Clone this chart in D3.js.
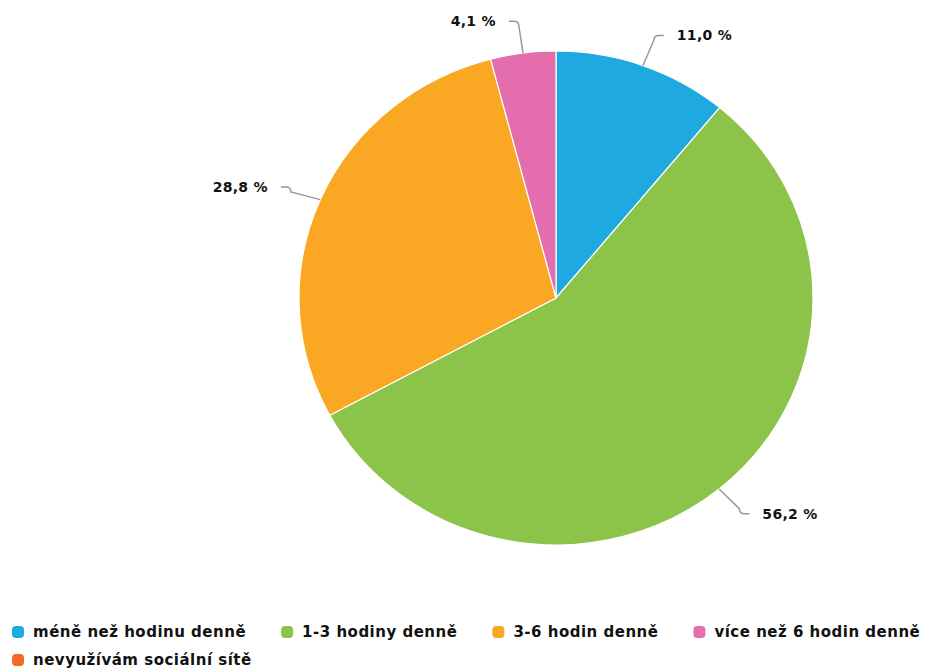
<!DOCTYPE html>
<html>
<head>
<meta charset="utf-8">
<script src="https://cdn.jsdelivr.net/npm/d3@7"></script>
<style>
  body { margin: 0; background: #fff; }
  text { font-family: "DejaVu Sans", sans-serif; font-weight: bold; fill: #111; }
</style>
</head>
<body>
<div id="chart"></div>
<script>
// chart data
const categories = ["méně než hodinu denně", "1-3 hodiny denně", "3-6 hodin denně", "více než 6 hodin denně", "nevyužívám sociální sítě"];
const values = [11.0, 56.2, 28.8, 4.1, 0];
const colors = ["#1fa9e1", "#8cc44a", "#faa823", "#e46ead", "#f26a25"];

var width = 931, height = 670
var cx = 556, cy = 298
var rx = 257, ry = 247   // the reference is a touch wider than tall

var svg = d3.select("#chart").append("svg")
  .attr("width", width)
  .attr("height", height)

var color = d3.scaleOrdinal().domain(categories).range(colors)

var pie = d3.pie().sort(null).value(d => d.value)
var data = categories.map((c, i) => ({ name: c, value: values[i] }))
var arcs = pie(data)

// pie drawn as a circle of radius ry, stretched horizontally
var g = svg.append("g")
  .attr("transform", "translate(" + cx + "," + cy + ") scale(" + (rx / ry) + ",1)")

var arc = d3.arc().innerRadius(0).outerRadius(ry)

g.selectAll("path")
  .data(arcs.filter(d => d.value > 0))
  .enter()
  .append("path")
  .attr("d", arc)
  .attr("fill", d => color(d.data.name))
  .attr("stroke", "#fff")
  .attr("stroke-width", 1.2)
  .attr("vector-effect", "non-scaling-stroke")

// data labels with connectors
var fmt = v => d3.format(".1f")(v).replace(".", ",") + " %"
var labels = svg.append("g")

arcs.filter(d => d.value > 0).forEach(d => {
  var a = (d.startAngle + d.endAngle) / 2
  var s = Math.sin(a), c = Math.cos(a)
  var right = s >= 0 ? 1 : -1
  var p0 = [cx + rx * s, cy - ry * c]
  var p1 = [cx + (rx + 32) * s, cy - (ry + 32) * c]
  var p2 = [p1[0] + right * 10, p1[1]]
  labels.append("path")
    .attr("d", "M" + p0 + " L" + p1[0] + "," + (p1[1] + (p0[1] > p1[1] ? 5 : -5)) +
      " Q" + p1 + " " + (p1[0] + right * 5) + "," + p1[1] + " L" + p2)
    .attr("fill", "none")
    .attr("stroke", "#999")
    .attr("stroke-width", 1.5)
  labels.append("text")
    .attr("x", p2[0] + right * 13)
    .attr("y", p2[1])
    .attr("dy", "0.35em")
    .attr("text-anchor", right > 0 ? "start" : "end")
    .style("font-size", "14px")
    .style("letter-spacing", "0.3px")
    .text(fmt(d.value))
})

// legend
var legend = svg.append("g")
var lx = 12, ly = 632
categories.forEach((c, i) => {
  var item = legend.append("g")
  var t = item.append("text")
    .attr("x", 21)
    .attr("dy", "0.35em")
    .style("font-size", "15px")
    .style("letter-spacing", "0.5px")
    .text(c)
  var w = t.node().getComputedTextLength()
  if (lx + 21 + w > width) { lx = 12; ly += 28 }
  item.attr("transform", "translate(" + lx + "," + ly + ")")
  item.insert("rect", "text")
    .attr("x", 0).attr("y", -6)
    .attr("width", 12).attr("height", 12)
    .attr("rx", 4)
    .attr("fill", color(c))
  lx += 21 + w + 35
})
</script>
</body>
</html>
